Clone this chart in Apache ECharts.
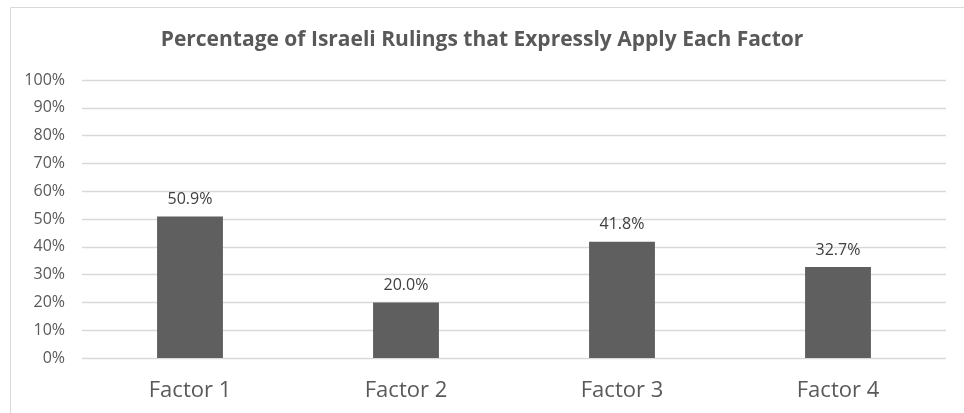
<!DOCTYPE html>
<html>
<head>
<meta charset="utf-8">
<script src="https://cdn.jsdelivr.net/npm/echarts@6/dist/echarts.min.js"></script>
<style>
html,body{margin:0;padding:0;background:#fff;}
#chart{width:964px;height:413px;}
</style>
</head>
<body>
<div id="chart"></div>
<script>
const titleText = 'Percentage of Israeli Rulings that Expressly Apply Each Factor';
const categories = ['Factor 1', 'Factor 2', 'Factor 3', 'Factor 4'];
const values = [50.9, 20.0, 41.8, 32.7];
const yTicks = [0, 10, 20, 30, 40, 50, 60, 70, 80, 90, 100];

const FONT = '"Open Sans", sans-serif';
const chart = echarts.init(document.getElementById('chart'), null, {renderer: 'canvas'});
chart.setOption({
  backgroundColor: '#ffffff',
  animation: false,
  graphic: [{
    type: 'rect',
    shape: {x: 10.5, y: 7.5, width: 1000, height: 1000},
    style: {fill: 'none', stroke: '#d9d9d9', lineWidth: 1},
    z: -1
  }],
  title: {
    text: titleText,
    left: 'center',
    top: 25,
    textStyle: {fontFamily: FONT, fontSize: 21, fontWeight: 'bold', color: '#595959'}
  },
  grid: {left: 82, right: 18, top: 80, bottom: 55, containLabel: false},
  xAxis: {
    type: 'category',
    data: categories,
    axisLine: {show: false},
    axisTick: {show: false},
    axisLabel: {fontFamily: FONT, fontSize: 22, color: '#595959', margin: 22}
  },
  yAxis: {
    type: 'value',
    min: yTicks[0],
    max: yTicks[yTicks.length - 1],
    interval: 10,
    axisLine: {show: false},
    axisTick: {show: false},
    axisLabel: {fontFamily: FONT, fontSize: 16, color: '#595959', margin: 17, formatter: v => v + '%'},
    splitLine: {lineStyle: {color: '#d9d9d9', width: 1.3}}
  },
  series: [{
    type: 'bar',
    data: values,
    barWidth: '30.5%',
    itemStyle: {color: '#5f5f5f'},
    label: {
      show: true,
      position: 'top',
      distance: 9,
      fontFamily: FONT,
      fontSize: 16,
      color: '#404040',
      formatter: p => p.value.toFixed(1) + '%'
    }
  }]
});
</script>
</body>
</html>
